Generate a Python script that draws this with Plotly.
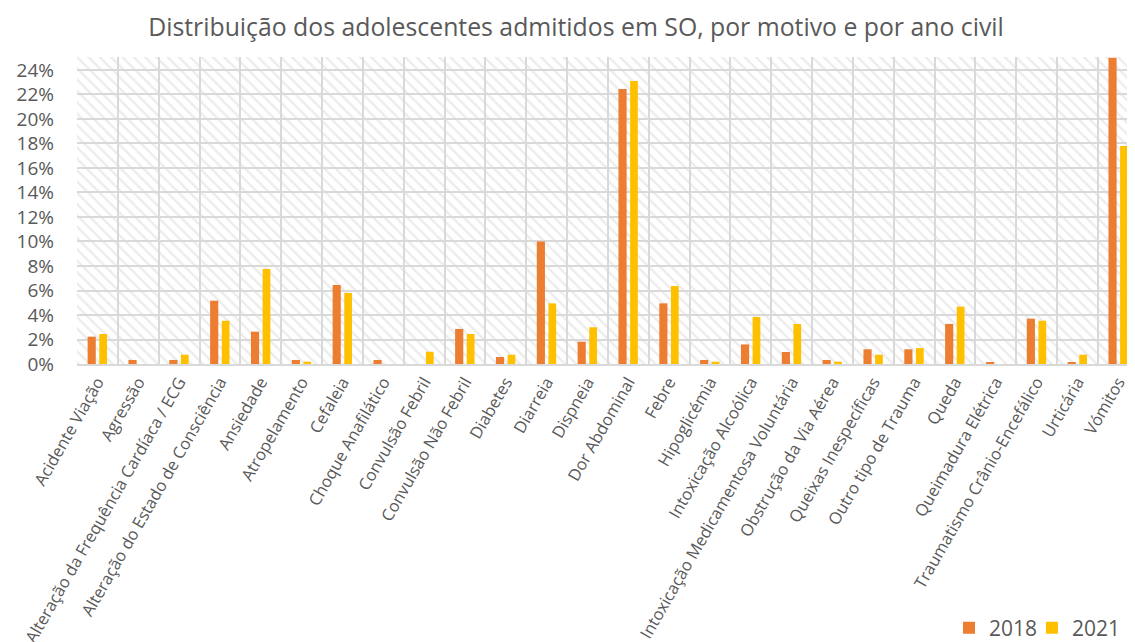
import plotly.graph_objects as go

categories = [
    "Acidente Viação", "Agressão", "Alteração da Frequência Cardíaca / ECG",
    "Alteração do Estado de Consciência", "Ansiedade", "Atropelamento", "Cefaleia",
    "Choque Anafilático", "Convulsão Febril", "Convulsão Não Febril", "Diabetes",
    "Diarreia", "Dispneia", "Dor Abdominal", "Febre", "Hipoglicémia",
    "Intoxicação Alcoólica", "Intoxicação Medicamentosa Voluntária",
    "Obstrução da Via Aérea", "Queixas Inespecíficas", "Outro tipo de Trauma",
    "Queda", "Queimadura Elétrica", "Traumatismo Crânio-Encefálico", "Urticária",
    "Vómitos",
]
values_2018 = [2.23, 0.33, 0.33, 5.17, 2.64, 0.33, 6.45, 0.33, 0.0, 2.86, 0.57,
               10.0, 1.82, 22.45, 4.95, 0.33, 1.6, 0.98, 0.33, 1.2, 1.2, 3.27,
               0.16, 3.7, 0.16, 25.0]
values_2021 = [2.45, 0.0, 0.76, 3.53, 7.76, 0.19, 5.8, 0.0, 1.0, 2.45, 0.76,
               4.95, 3.0, 23.1, 6.37, 0.19, 3.84, 3.27, 0.19, 0.76, 1.3, 4.68,
               0.0, 3.53, 0.76, 17.8]
tick_values = [0, 2, 4, 6, 8, 10, 12, 14, 16, 18, 20, 22, 24]
tick_labels = [f"{v}%" for v in tick_values]

y_max = 25.06
n = len(categories)

fig = go.Figure()

# hatched plot background
fig.add_trace(go.Bar(
    x=[categories[0]], y=[y_max], width=[n], offset=[-0.5],
    marker=dict(color="rgba(0,0,0,0)", line=dict(width=0),
                pattern=dict(shape="\\", fgcolor="#D9D9D9", bgcolor="rgba(0,0,0,0)",
                             size=8, solidity=0.3)),
    showlegend=False, hoverinfo="skip",
))

fig.add_trace(go.Bar(
    name="2018", x=categories, y=values_2018, width=0.2, offset=-0.24,
    marker=dict(color="#ED7D31", line=dict(width=0)), legend="legend",
))
fig.add_trace(go.Bar(
    name="2021", x=categories, y=values_2021, width=0.19, offset=0.045,
    marker=dict(color="#FFC000", line=dict(width=0)), legend="legend2",
))

legend_style = dict(orientation="h", xanchor="left", y=-0.86, yanchor="middle",
                    font=dict(size=21, color="#595959"), bgcolor="rgba(0,0,0,0)",
                    itemwidth=30)

fig.update_layout(
    width=1127, height=634,
    barmode="overlay",
    paper_bgcolor="white", plot_bgcolor="white",
    margin=dict(l=69, r=0, t=49, b=278, autoexpand=False),
    font=dict(family="Open Sans", color="#595959"),
    title=dict(text="Distribuição dos adolescentes admitidos em SO, por motivo e por ano civil",
               x=0.504, xanchor="center", y=0.970, yanchor="middle",
               font=dict(size=24.8, color="#595959")),
    legend=dict(x=0.8242, **legend_style),
    legend2=dict(x=0.9026, **legend_style),
    xaxis=dict(
        type="category", range=[-0.5, 25.41], tickson="boundaries", automargin=False,
        showgrid=True, gridcolor="#D9D9D9", gridwidth=2,
        showline=True, linecolor="#D9D9D9", linewidth=2,
        ticks="", tickangle=-60, tickfont=dict(size=16.5, color="#595959"),
    ),
    yaxis=dict(
        range=[0, y_max], tickvals=tick_values, ticktext=tick_labels, automargin=False,
        showgrid=True, gridcolor="#D9D9D9", gridwidth=2,
        zeroline=False, showline=False, ticks="",
        ticklabelstandoff=22, tickfont=dict(size=19, color="#595959"),
    ),
)

fig.write_html("out.html")
